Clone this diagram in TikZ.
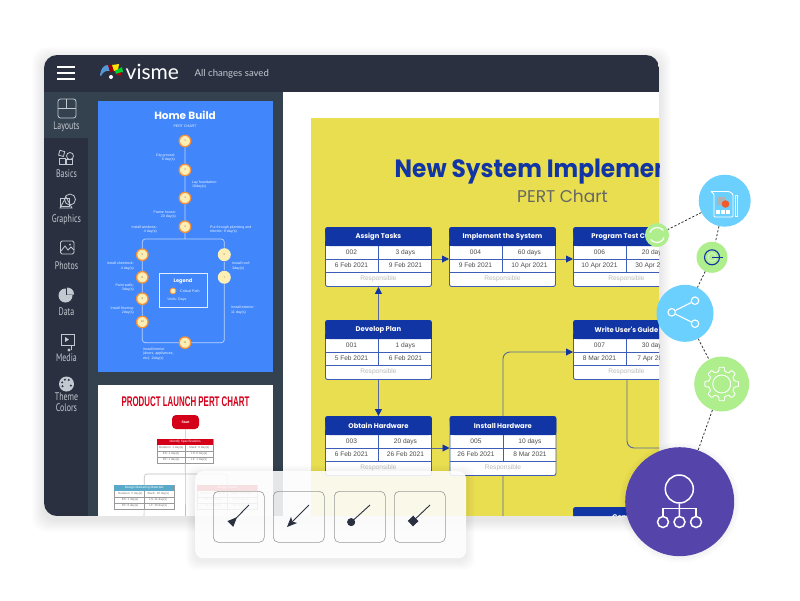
\documentclass[tikz,border=0pt]{standalone}
\usepackage{fontspec}
\usepackage{tikz}
\usetikzlibrary{calc,arrows.meta}
\setmainfont{Liberation Sans}
\newfontfamily\headfont{Poppins}
\newfontfamily\titlefont[FakeStretch=.93]{Poppins}
\newfontfamily\sidefont[FakeStretch=.72]{PT Sans}
\newfontfamily\logofont{Lato}
\newfontfamily\slimfont[FakeStretch=.565]{Liberation Sans}
\definecolor{barcol}{HTML}{2A3040}
\definecolor{panelcol}{HTML}{34414F}
\definecolor{iconcol}{HTML}{C3C9D0}
\definecolor{slideblue}{HTML}{4187FB}
\definecolor{chartyellow}{HTML}{E9DE50}
\definecolor{headblue}{HTML}{1235A5}
\definecolor{rulecol}{HTML}{3E5DB8}
\definecolor{wirecol}{HTML}{54689F}
\definecolor{skyblob}{HTML}{6CD0FF}
\definecolor{greenblob}{HTML}{AEEE8D}
\definecolor{purpleblob}{HTML}{5545AB}
\definecolor{launchred}{HTML}{D4001A}
\definecolor{launchteal}{HTML}{5AA9C9}
\definecolor{dotring}{HTML}{F5903A}
\definecolor{dotfill}{HTML}{FDEEB4}
\definecolor{pierred}{HTML}{F15A2B}
\tikzset{
	sidelabel/.style={text=iconcol,font=\sidefont\fontsize{11}{11}\selectfont,inner sep=0},
	iconline/.style={draw=iconcol,line width=.8pt},
	pertbox/.style={draw=rulecol,fill=white,line width=.9pt,rounded corners=2pt,minimum width=106pt,minimum height=59pt,inner sep=0,anchor=north west},
	cellfont/.style={text=black!70,font=\fontsize{6.6}{7}\selectfont,inner sep=0},
	wire/.style={draw=wirecol,line width=.9pt,rounded corners=7pt},
	wiretip/.style={wire,-{Triangle[length=7pt,width=7pt,color=headblue]}},
	stepdot/.style={circle,draw=dotring,line width=1.3pt,fill=dotfill,minimum size=11.5pt,inner sep=0,font=\fontsize{2.6}{3}\selectfont,text=black!60},
	plaindot/.style={stepdot,draw=none,minimum size=13pt},
	tinytext/.style={text=white!90!slideblue,font=\fontsize{3.6}{4.4}\selectfont,inner sep=0,align=left},
	smallcell/.style={text=black!55,font=\fontsize{3}{3.5}\selectfont,inner sep=0},
	blob/.style={circle,inner sep=0,minimum size=#1},
	linkdash/.style={draw=black!80,line width=.8pt,dash pattern=on 2.2pt off 1.8pt},
	tilebox/.style={draw=black!40,line width=.6pt,rounded corners=5pt,minimum width=51pt,minimum height=51pt,inner sep=0,anchor=north west},
	tileline/.style={draw=barcol,line width=.9pt},
	orgdot/.style={circle,draw=white,line width=1.5pt,inner sep=0},
}
\begin{document}
\begin{tikzpicture}[x=1pt,y=-1pt]
	\useasboundingbox (0,0) rectangle (800,600);
	%% soft shadow round the window
	\foreach \s in {1,...,12}{
		\fill[black,opacity=.006,rounded corners=14pt] (44-\s,55-\s+4) rectangle (659+\s,516+\s+4);
		}
	\begin{scope}
		\clip[rounded corners=13pt] (44,55) rectangle (659,516);
		\fill[barcol] (44,55) rectangle (659,516);
		\fill[panelcol] (88,92) rectangle (283,516);
		\fill[panelcol] (44,92) rectangle (88,138);
		\fill[white] (283,92) rectangle (659,516);
		\fill[slideblue] (98,101) rectangle (273,372);
		\fill[white] (98,385) rectangle (273,516);
		%top bar placed by hand
		\foreach \y in {66.5,72.5,78.5}{
			\fill[white] (57,\y-1) rectangle (75,\y+1);
			}
		\fill[cyan!60!blue!70] (100,75) .. controls (101,68) and (104,65) .. (108,65) -- (110,71) .. controls (106,70) and (103,72) .. (101,76) -- cycle;
		\fill[red!60!black] (108,65) -- (112,65) -- (114,71) -- (110,72) -- cycle;
		\fill[yellow!85!orange] (112,65) -- (119,64) -- (118,70) -- (114,71) -- cycle;
		\fill[green!60!teal] (115,71) -- (122,67) -- (123,72) -- (116,74) -- cycle;
		\fill[red!75!black] (116,74) -- (122,72) -- (120,76) -- cycle;
		\fill[white] (111,77) circle (2);
		\node[anchor=west,text=white,font=\logofont\fontsize{21}{22}\selectfont,inner sep=0] (logotext) at (125.5,72) {visme};
		\node[anchor=west,text=iconcol,font=\logofont\fontsize{9.6}{10}\selectfont,inner sep=0] (savedtext) at (194.5,73.5) {All changes saved};
		%% sidebar labels with a loop
		\foreach \y/\word in {127/Layouts,174/Basics,220/Graphics,266/Photos,312/Data,358/Media,397/Theme,408/Colors}{
			\node[sidelabel] (side\word) at (66.5,\y) {\word};
			}
		%% sidebar icons
		\draw[iconline,rounded corners=2.5pt] (58,99) rectangle (76,118);
		\draw[iconline] (58,108) -- (76,108) (66.5,99) -- (66.5,108);
		\draw[iconline,rotate around={-15:(62,154)}] (59,151) rectangle (64,156);
		\draw[iconline] (59,158) rectangle (65,164);
		\draw[iconline] (66,159) rectangle (72,164);
		\draw[iconline] (70,156) circle (3.5);
		\draw[iconline] (70,199.5) circle (5.5);
		\draw[iconline] (60,198) rectangle (69,206);
		\draw[iconline] (60,208) -- (66,197) -- (72,208) -- cycle;
		\draw[iconline,rounded corners=1.5pt] (60.5,241) rectangle (74,254);
		\draw[iconline] (61,251) -- (65,246) -- (68,250) -- (71,247) -- (74,250);
		\fill[iconcol] (70,244.5) circle (1);
		\fill[iconcol] (65.5,295.5) circle (7);
		\fill[barcol] (66,288) rectangle (74,295);
		\fill[iconcol] (67,287.5) -- (67,294.5) -- (74,294.5) .. controls (74,290) and (71,287.5) .. (67,287.5) -- cycle;
		\draw[iconline] (61,334) rectangle (74,345);
		\fill[iconcol] (65,337) -- (65,342) -- (69,339.5) -- cycle;
		\draw[iconline] (71,345) -- (71,350);
		\fill[iconcol] (69,350) circle (1.6);
		\fill[iconcol] (66.5,384) circle (7.5);
		\foreach \a in {150,200,250,300,20}{
			\fill[barcol] ($(66.5,384)+(\a:4.6)$) circle (1.1);
			}
		%% home build slide
		\node[text=white,font=\headfont\bfseries\fontsize{10.5}{11}\selectfont,inner sep=0] (hometitle) at (185,115.5) {Home Build};
		\node[tinytext] (homesub) at (185,126) {PERT CHART};
		\node[stepdot] (s1) at (185,141) {1};
		\node[stepdot] (s2) at (185,170) {2};
		\node[stepdot] (s3) at (185,198) {3};
		\node[stepdot] (s4) at (185,226.7) {4};
		\node[stepdot] (s5) at (142.3,254.7) {5};
		\node[stepdot] (s8) at (142.3,277.3) {8};
		\node[stepdot] (s9) at (142.3,298.7) {9};
		\node[stepdot] (s10) at (142.3,322) {10};
		\node[stepdot] (s11) at (185,342.7) {11};
		\node[plaindot] (s6) at (224.3,254.7) {6};
		\node[plaindot] (s7) at (224.3,277.3) {7};
		\coordinate (fork) at (185,239);
		\draw[white!65!slideblue,line width=.7pt,rounded corners=3pt]
			(s1) -- (s2) -- (s3) -- (s4) -- (fork)
			(s5) |- (fork) -| (s6)
			(s5) -- (s8) -- (s9) -- (s10) |- (s11)
			(s6) -- (s7) |- (s11);
		\node[draw=white!85!slideblue,line width=.8pt,minimum width=48pt,minimum height=34pt,inner sep=0] (legendbox) at (183.5,290.3) {};
		\node[text=white,font=\headfont\bfseries\fontsize{5}{6}\selectfont,inner sep=0] (legendtitle) at (183,281) {Legend};
		\node[stepdot,minimum size=6pt,line width=.8pt] (legenddot) at (173,291) {};
		\node[tinytext,anchor=west] (legendpath) at (180,291) {Critical Path};
		\node[tinytext] (legendunit) at (177,299.5) {Units: Days};
		%% step labels, right side of a step then left side
		\node[tinytext,anchor=west] (lay) at (192,184.5) {Lay foundation:\\10day(s)};
		\node[tinytext,anchor=west] (plumb) at (210,229.5) {Put through plumbing and\\electric: 9 day(s)};
		\node[tinytext,anchor=west] (roof) at (232,266) {Install roof:\\3day(s)};
		\node[tinytext,anchor=west] (exterior) at (231,310) {Install exterior:\\11 day(s)};
		\node[tinytext,anchor=west] (interior) at (143,354) {Install interior\\(doors, appliances,\\etc): 2day(s)};
		\node[tinytext,anchor=east,align=right] (dig) at (175,157.5) {Dig ground:\\6 day(s)};
		\node[tinytext,anchor=east,align=right] (frame) at (176,214.5) {Frame house:\\20 day(s)};
		\node[tinytext,anchor=east,align=right] (windows) at (157,229.5) {Install windows:\\4 day(s)};
		\node[tinytext,anchor=east,align=right] (sheet) at (134,266) {Install sheetrock:\\4 day(s)};
		\node[tinytext,anchor=east,align=right] (paint) at (134,287.5) {Paint walls:\\3day(s)};
		\node[tinytext,anchor=east,align=right] (floor) at (134,310.5) {Install flooring:\\2day(s)};
		%% product launch slide
		\node[text=launchred,font=\slimfont\bfseries\fontsize{14}{15}\selectfont,inner sep=0] (launchtitle) at (185.5,402) {PRODUCT LAUNCH PERT CHART};
		\node[fill=launchred,text=white,rounded corners=4pt,minimum width=27pt,minimum height=14pt,inner sep=0,font=\bfseries\fontsize{3.5}{4}\selectfont] (start) at (185.5,422) {Start};
		\foreach \name/\x/\y/\wid/\col/\ttl/\dur/\slk/\es/\ls/\ef/\lf in {
			spec/157/439/56/launchred/Identify Specifications/Duration: 1 day(s)/Slack: 0 day(s)/ES: 1 day(s)/LS: 0 day(s)/EF: 1 day(s)/LF: 1 day(s),
			mark/114/485/60/launchteal/Design Marketing Materials/Duration: 5 day(s)/Slack: 10 day(s)/ES: 1 day(s)/LS: 11 day(s)/EF: 6 day(s)/LF: 16 day(s),
			team/197/485/60/launchred/Design Teams/Duration: 4 day(s)/Slack: 0 day(s)/ES: 1 day(s)/LS: 1 day(s)/EF: 5 day(s)/LF: 5 day(s)}{
			\node[draw=black!40,line width=.4pt,fill=white,minimum width=\wid pt,minimum height=24pt,anchor=north west,inner sep=0] (\name) at (\x,\y) {};
			\fill[\col] (\x,\y) rectangle ($(\name.north east)+(0,6)$);
			\draw[black!40,line width=.4pt] ($(\name.north west)+(0,12)$) -- ($(\name.north east)+(0,12)$)
				($(\name.north west)+(0,18)$) -- ($(\name.north east)+(0,18)$)
				($(\name.north)+(0,6)$) -- (\name.south);
			\node[text=white,font=\fontsize{3.2}{4}\selectfont,inner sep=0] (\name head) at ($(\name.north)+(0,3)$) {\ttl};
			\node[smallcell] (\name a) at ($(\name.north)+(-14,9)$) {\dur};
			\node[smallcell] (\name b) at ($(\name.north)+(14,9)$) {\slk};
			\node[smallcell] (\name c) at ($(\name.north)+(-14,15)$) {\es};
			\node[smallcell] (\name d) at ($(\name.north)+(14,15)$) {\ls};
			\node[smallcell] (\name e) at ($(\name.north)+(-14,21)$) {\ef};
			\node[smallcell] (\name f) at ($(\name.north)+(14,21)$) {\lf};
			}
		\coordinate (launchfork) at (185.5,474);
		\coordinate (launchdown) at (185.5,516);
		\coordinate (markdown) at (144,516);
		\coordinate (teamdown) at (227,516);
		\draw[black!25,line width=.6pt] (start) -- (spec) (spec) -- (launchdown);
		\draw[black!25,line width=.6pt,rounded corners=3pt] (mark.north) |- (launchfork) -| (team.north);
		\draw[black!25,line width=.6pt] (mark.south) -- (markdown);
		\draw[black!25,line width=.6pt] (team.south) -- (teamdown);
		%% big yellow chart
		\fill[chartyellow] (311,118) rectangle (659,516);
		\node[anchor=base west,text=headblue,font=\titlefont\bfseries\fontsize{25}{26}\selectfont,inner sep=0] (charttitle) at (394.5,177) {New System Implementation};
		\node[anchor=base west,text=black!60,font=\headfont\fontsize{17}{18}\selectfont,inner sep=0] (chartsub) at (517,202) {PERT Chart};
		%% boxes drawn with a loop
		\foreach \name/\x/\y/\ttl/\id/\dur/\st/\en in {
			assign/325/227/Assign Tasks/002/3 days/6 Feb 2021/9 Feb 2021,
			implement/449/227/Implement the System/004/60 days/9 Feb 2021/10 Apr 2021,
			program/573/227/Program Test Cases/006/20 days/10 Apr 2021/30 Apr 2021,
			develop/325/320/Develop Plan/001/1 days/5 Feb 2021/6 Feb 2021,
			guide/573/320/Write User's Guide/007/30 days/8 Mar 2021/7 Apr 2021,
			obtain/325/416/Obtain Hardware/003/20 days/6 Feb 2021/26 Feb 2021,
			install/449.5/416/Install Hardware/005/10 days/26 Feb 2021/8 Mar 2021,
			convert/573/507/Convert/008/10 days/8 Mar 2021/18 Mar 2021}{
			\node[pertbox] (\name) at (\x,\y) {};
			\fill[headblue,rounded corners=3pt] (\name.north west) -- (\name.north east) -- ++(0,19) -- ++(-106,0) -- cycle;
			\fill[headblue] ($(\name.north west)+(0,14)$) rectangle ($(\name.north east)+(0,19)$);
			\draw[rulecol,line width=.9pt] ($(\name.north west)+(0,32)$) -- ($(\name.north east)+(0,32)$)
				($(\name.north west)+(0,45)$) -- ($(\name.north east)+(0,45)$)
				($(\name.north)+(0,19)$) -- ($(\name.north)+(0,45)$);
			\node[text=white,font=\headfont\bfseries\fontsize{6.8}{7}\selectfont,inner sep=0] (\name head) at ($(\name.north)+(0,10)$) {\ttl};
			\node[cellfont] (\name id) at ($(\name.north)+(-27,25.5)$) {\id};
			\node[cellfont] (\name dur) at ($(\name.north)+(27,25.5)$) {\dur};
			\node[cellfont] (\name st) at ($(\name.north)+(-27,38.5)$) {\st};
			\node[cellfont] (\name en) at ($(\name.north)+(27,38.5)$) {\en};
			\node[cellfont,text=black!27] (\name who) at ($(\name.north)+(0,52)$) {Responsible};
			}
		%% arrows between the boxes
		\coordinate (assignrow) at ($(assign.north east)+(0,32)$);
		\coordinate (implin) at ($(implement.north west)+(0,32)$);
		\coordinate (implrow) at ($(implement.north east)+(0,32)$);
		\coordinate (progin) at ($(program.north west)+(0,32)$);
		\coordinate (obtainrow) at ($(obtain.north east)+(0,32)$);
		\coordinate (installin) at ($(install.north west)+(0,32)$);
		\coordinate (guidein) at ($(guide.north west)+(0,32)$);
		\coordinate (guideout) at (627,379);
		\coordinate (guideend) at (660,448);
		\coordinate (installend) at (503,517);
		\draw[wiretip] (develop) -- (assign);
		\draw[wiretip] (develop) -- (obtain);
		\draw[wiretip] (assignrow) -- (implin);
		\draw[wiretip] (implrow) -- (progin);
		\draw[wiretip] (obtainrow) -- (installin);
		\draw[wiretip] (install.north) |- (guidein);
		\draw[wire] (install.south) -- (installend);
		\draw[wire] (guideout) |- (guideend);
	\end{scope}
	%% arrow tip menu
	\foreach \s in {1,...,9}{
		\fill[black,opacity=.006,rounded corners=10pt] (195-\s,471-\s+3) rectangle (466+\s,558+\s+3);
		}
	\node[fill=white,fill opacity=.88,rounded corners=8pt,minimum width=271pt,minimum height=87pt,inner sep=0,anchor=north west] (tipmenu) at (195,471) {};
	\foreach \i/\x in {1/213,2/273,3/334,4/394}{
		\node[tilebox] (tile\i) at (\x,491) {};
		\coordinate (from\i) at (\x+36,505);
		}
	\coordinate (to1) at (230.3,524);
	\coordinate (to2) at (287,527);
	\coordinate (to3) at (348.2,524.8);
	\coordinate (to4) at (410.4,523.6);
	\draw[tileline,-{Triangle[reversed,length=9.5pt,width=8pt]}] (from1) -- (to1);
	\draw[tileline,-{Stealth[length=10pt,width=8.5pt,inset=2.5pt]}] (from2) -- (to2);
	\draw[tileline,-{Circle[length=8pt]}] (from3) -- (to3);
	\draw[tileline,-{Square[length=7.5pt,width=7.5pt]}] (from4) -- (to4);
	%% circles down the right side
	\foreach \s in {1,...,6}{
		\fill[black,opacity=.008] (679.7,502.5) circle (54.5+\s);
		}
	\node[blob=52pt,fill=skyblob] (doc) at (724.7,200.7) {};
	\node[blob=24pt,fill=greenblob] (cycle) at (657,235) {};
	\node[blob=31pt,fill=greenblob] (target) at (712,257.3) {};
	\node[blob=57pt,fill=skyblob] (share) at (685,313.3) {};
	\node[blob=55pt,fill=greenblob] (gear) at (721.7,384) {};
	\node[blob=109pt,fill=purpleblob] (org) at (679.7,501.7) {};
	\draw[linkdash] (doc) -- (cycle);
	\draw[linkdash] (doc) -- (target);
	\draw[linkdash] (target) -- (share);
	\draw[linkdash] (share) -- (gear);
	\draw[linkdash] (gear) -- (org);
	%% document icon
	\draw[white,line width=.9pt,rounded corners=1pt] (711,191.5) -- (729,191.5) -- (733,194) -- (733,217) -- (714,217) -- (714,194) -- (711,191.5);
	\fill[black!30] (717,197) rectangle (725,205);
	\fill[white] (716,209.5) rectangle (719.5,213.5);
	\fill[white] (721,209.5) rectangle (724.5,213.5);
	\fill[white] (726,209.5) rectangle (729.5,213.5);
	\fill[pierred] (725.5,204) circle (3.8);
	\draw[white,line width=.9pt] (735,195) rectangle (737.5,216);
	%% cycle icon
	\draw[white,line width=1.2pt,-{Stealth[length=3pt]}] ($(cycle)+(200:7.5)$) arc (200:330:7.5);
	\draw[white,line width=1.2pt,-{Stealth[length=3pt]}] ($(cycle)+(20:7.5)$) arc (20:150:7.5);
	%% target icon
	\draw[headblue,line width=1.1pt] (target) circle (7.5);
	\draw[white!40!greenblob,line width=1.2pt] (target) circle (4);
	\coordinate (targetend) at (723,257.3);
	\draw[headblue,line width=1.1pt] (target.center) -- (targetend);
	%% share icon
	\node[orgdot,minimum size=7.5pt,line width=1.1pt] (shareup) at (695,300.7) {};
	\node[orgdot,minimum size=7.5pt,line width=1.1pt] (shareleft) at (671.7,312.3) {};
	\node[orgdot,minimum size=7.5pt,line width=1.1pt] (sharedown) at (695,323.7) {};
	\draw[white,line width=1.1pt] (shareup) -- (shareleft) -- (sharedown);
	%% gear icon
	\begin{scope}[shift={(721.7,384)}]
		\draw[white,line width=.9pt,rounded corners=.8pt] (-13:13)
			\foreach \a in {0,45,...,315}{ -- (\a-9:17) -- (\a+9:17) -- (\a+13:13) -- (\a+32:13) } -- cycle;
		\draw[white,line width=.9pt] (0,0) circle (9);
	\end{scope}
	%% org icon
	\node[orgdot,minimum size=28pt] (orgtop) at (679.3,489) {};
	\foreach \i/\x in {1/663,2/679.5,3/696}{
		\node[orgdot,minimum size=11pt] (orgleaf\i) at (\x,522) {};
		}
	\coordinate (orgjoin) at (679.5,508.5);
	\draw[white,line width=1.5pt] (orgtop) -- (orgleaf2);
	\draw[white,line width=1.5pt] (orgleaf1) |- (orgjoin) -| (orgleaf3);
\end{tikzpicture}
\end{document}
